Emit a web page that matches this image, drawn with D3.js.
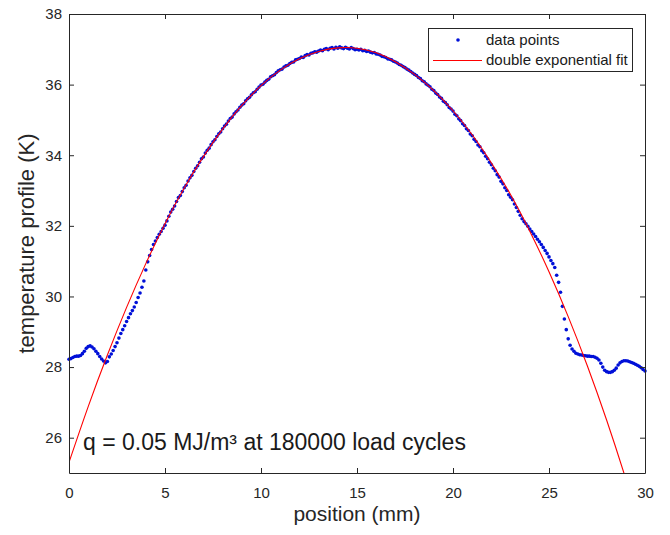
<!DOCTYPE html>
<html>
<head>
<meta charset="utf-8">
<script src="https://cdn.jsdelivr.net/npm/d3@7"></script>
<style>
  body { margin: 0; background: #fff; }
  text { font-family: "Liberation Sans", Arial, Helvetica, sans-serif; }
</style>
</head>
<body>
<div id="chart"></div>
<script>
// measured temperature, one value every 0.1 mm from 0 to 30 mm
const positionStep = 0.1;
const temperature = [
  28.22, 28.24, 28.27, 28.30, 28.31, 28.31, 28.33, 28.38, 28.45, 28.53,
  28.58, 28.60, 28.57, 28.52, 28.45, 28.38, 28.30, 28.23, 28.17, 28.12,
  28.16, 28.29, 28.37, 28.47, 28.58, 28.69, 28.82, 28.95, 29.06, 29.17,
  29.29, 29.40, 29.51, 29.60, 29.70, 29.83, 29.97, 30.10, 30.26, 30.44,
  30.75, 30.98, 31.16, 31.33, 31.47, 31.57, 31.67, 31.76, 31.84, 31.93,
  32.02, 32.14, 32.27, 32.39, 32.47, 32.56, 32.69, 32.80, 32.86, 32.97,
  33.08, 33.15, 33.27, 33.36, 33.43, 33.54, 33.63, 33.70, 33.80, 33.90,
  33.95, 34.06, 34.14, 34.20, 34.30, 34.38, 34.44, 34.53, 34.61, 34.66,
  34.75, 34.83, 34.88, 34.97, 35.04, 35.08, 35.17, 35.23, 35.28, 35.36,
  35.42, 35.46, 35.54, 35.60, 35.64, 35.71, 35.77, 35.80, 35.87, 35.93,
  35.99, 36.01, 36.07, 36.12, 36.15, 36.22, 36.25, 36.28, 36.34, 36.39,
  36.42, 36.44, 36.50, 36.53, 36.55, 36.60, 36.63, 36.64, 36.70, 36.72,
  36.74, 36.78, 36.77, 36.82, 36.85, 36.84, 36.89, 36.90, 36.93, 36.92,
  36.95, 36.98, 36.96, 37.00, 37.02, 36.99, 37.03, 37.05, 37.01, 37.06,
  37.03, 37.07, 37.04, 37.02, 37.06, 37.03, 37.01, 37.05, 37.02, 36.99,
  37.00, 36.98, 37.00, 36.96, 36.97, 36.94, 36.95, 36.92, 36.90, 36.91,
  36.87, 36.86, 36.84, 36.80, 36.79, 36.77, 36.73, 36.72, 36.70, 36.66,
  36.64, 36.61, 36.57, 36.55, 36.51, 36.48, 36.44, 36.41, 36.37, 36.33,
  36.29, 36.26, 36.20, 36.17, 36.11, 36.08, 36.02, 35.98, 35.94, 35.87,
  35.83, 35.76, 35.72, 35.65, 35.61, 35.53, 35.49, 35.43, 35.35, 35.31,
  35.25, 35.16, 35.12, 35.03, 34.98, 34.89, 34.84, 34.75, 34.70, 34.60,
  34.55, 34.45, 34.39, 34.29, 34.24, 34.13, 34.07, 33.97, 33.90, 33.80,
  33.73, 33.63, 33.56, 33.45, 33.38, 33.26, 33.19, 33.08, 33.00, 32.88,
  32.81, 32.74, 32.62, 32.52, 32.41, 32.30, 32.20, 32.12, 32.06, 31.99,
  31.91, 31.84, 31.77, 31.70, 31.62, 31.55, 31.47, 31.39, 31.30, 31.22,
  31.12, 31.02, 30.93, 30.82, 30.60, 30.40, 30.12, 29.72, 29.36, 29.06,
  28.80, 28.62, 28.51, 28.45, 28.39, 28.37, 28.35, 28.34, 28.33, 28.32,
  28.31, 28.31, 28.30, 28.30, 28.28, 28.25, 28.20, 28.11, 28.00, 27.91,
  27.87, 27.85, 27.85, 27.87, 27.91, 27.97, 28.06, 28.12, 28.16, 28.18,
  28.18, 28.17, 28.15, 28.13, 28.11, 28.08, 28.05, 28.02, 27.98, 27.93,
  27.89
];

// double exponential fit, read at whole millimetres
const fitPosition = [0, 1, 2, 3, 4, 5, 6, 7, 8, 9, 10, 11, 12, 13, 14, 15,
  16, 17, 18, 19, 20, 21, 22, 23, 24, 25, 26, 27, 28, 29, 30];
const fitTemperature = [25.30, 26.88, 28.34, 29.69, 30.93, 32.06, 33.07, 33.96,
  34.74, 35.41, 35.97, 36.41, 36.73, 36.94, 37.04, 37.03, 36.90, 36.65, 36.29,
  35.83, 35.26, 34.58, 33.78, 32.88, 31.85, 30.70, 29.43, 28.03, 26.50, 24.83, 23.05];

const xTicks = [0, 5, 10, 15, 20, 25, 30];
const yTicks = [26, 28, 30, 32, 34, 36, 38];

const W = 670, H = 535;
const margin = {top: 14, right: 25, bottom: 62, left: 69};
const ink = "#262626";

const svg = d3.select("#chart").append("svg")
    .attr("width", W)
    .attr("height", H);

const x = d3.scaleLinear().domain([0, 30]).range([margin.left, W - margin.right]);
const y = d3.scaleLinear().domain([25, 38]).range([H - margin.bottom, margin.top]);

const points = temperature.map((t, i) => ({pos: i * positionStep, t: t}));
const fit = fitPosition.map((p, i) => ({pos: p, t: fitTemperature[i]}));

svg.append("clipPath").attr("id", "plotclip")
  .append("rect")
    .attr("x", x(0)).attr("y", y(38))
    .attr("width", x(30) - x(0)).attr("height", y(25) - y(38));

// data points
svg.append("g")
  .selectAll("circle")
  .data(points)
  .join("circle")
    .attr("cx", d => x(d.pos))
    .attr("cy", d => y(d.t))
    .attr("r", 1.8)
    .attr("fill", "#0010d8");

// fit line
svg.append("path")
    .datum(fit)
    .attr("clip-path", "url(#plotclip)")
    .attr("fill", "none")
    .attr("stroke", "#ff0000")
    .attr("stroke-width", 1.1)
    .attr("d", d3.line()
      .curve(d3.curveNatural)
      .x(d => x(d.pos))
      .y(d => y(d.t)));

// axes, ticks pointing inward like matlab
const styleAxis = g => {
  g.selectAll("path, line").attr("stroke", ink).attr("stroke-width", 1);
  g.selectAll("text").attr("fill", ink).style("font-size", "15px");
};

svg.append("g")
    .attr("transform", `translate(0,${y(25)})`)
    .call(d3.axisBottom(x).tickValues(xTicks).tickSize(-5).tickSizeOuter(0).tickPadding(14))
    .call(styleAxis);

svg.append("g")
    .attr("transform", `translate(0,${y(38)})`)
    .call(d3.axisTop(x).tickValues(xTicks).tickSize(-5).tickSizeOuter(0).tickFormat(""))
    .call(styleAxis);

svg.append("g")
    .attr("transform", `translate(${x(0)},0)`)
    .call(d3.axisLeft(y).tickValues(yTicks).tickSize(-5).tickSizeOuter(0).tickPadding(7))
    .call(styleAxis);

svg.append("g")
    .attr("transform", `translate(${x(30)},0)`)
    .call(d3.axisRight(y).tickValues(yTicks).tickSize(-5).tickSizeOuter(0).tickFormat(""))
    .call(styleAxis);

svg.selectAll(".domain").attr("fill", "none");

// axis labels
svg.append("text")
    .attr("x", (x(0) + x(30)) / 2)
    .attr("y", 521)
    .attr("text-anchor", "middle")
    .attr("fill", ink)
    .style("font-size", "21px")
    .text("position (mm)");

svg.append("text")
    .attr("transform", `translate(34,${(y(25) + y(38)) / 2}) rotate(-90)`)
    .attr("text-anchor", "middle")
    .attr("fill", ink)
    .style("font-size", "22px")
    .text("temperature profile (K)");

// annotation
svg.append("text")
    .attr("x", 83)
    .attr("y", 450)
    .attr("fill", "#1a1a1a")
    .style("font-size", "23px")
    .text("q = 0.05 MJ/m³ at 180000 load cycles");

// legend
const legend = svg.append("g");
legend.append("rect")
    .attr("x", 428.5).attr("y", 28.5)
    .attr("width", 204).attr("height", 43)
    .attr("fill", "#fff")
    .attr("stroke", ink)
    .attr("stroke-width", 1);
legend.append("circle")
    .attr("cx", 458).attr("cy", 40)
    .attr("r", 1.8)
    .attr("fill", "#0010d8");
legend.append("line")
    .attr("x1", 433).attr("x2", 482)
    .attr("y1", 60.5).attr("y2", 60.5)
    .attr("stroke", "#ff0000")
    .attr("stroke-width", 1.1);
legend.append("text")
    .attr("x", 486).attr("y", 45)
    .attr("fill", "#1a1a1a")
    .style("font-size", "15px")
    .text("data points");
legend.append("text")
    .attr("x", 486).attr("y", 65)
    .attr("fill", "#1a1a1a")
    .style("font-size", "15px")
    .text("double exponential fit");
</script>
</body>
</html>
